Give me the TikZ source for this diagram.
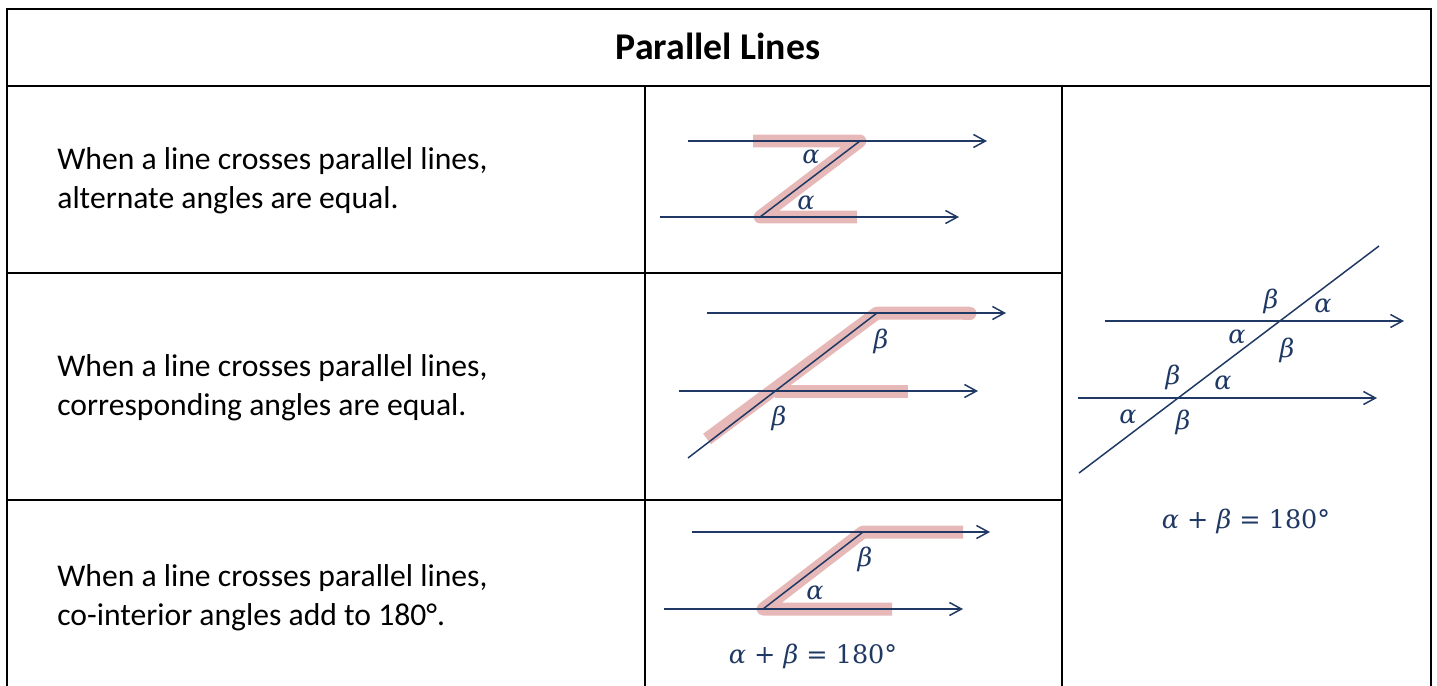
\documentclass[tikz,border=0pt]{standalone}
\usepackage{fontspec}
\setmainfont{Carlito}
\newfontfamily\angfont{DejaVu Serif}
\usetikzlibrary{arrows.meta}

\definecolor{navy}{RGB}{31,56,100}
\definecolor{hlpink}{RGB}{230,185,184}

\newcommand{\al}{\textit{α}}
\newcommand{\be}{\textit{β}}

\begin{document}
\begin{tikzpicture}[x=0.02cm,y=-0.02cm,
    grid/.style={line width=1.3pt,draw=black},
    ray/.style={draw=navy,line width=0.85pt,-{Straight Barb[length=0.24cm,width=0.26cm]}},
    cut/.style={draw=navy,line width=0.85pt},
    hilite/.style={draw=hlpink,line width=0.26cm,line join=round},
    rule/.style={font=\fontsize{18}{22}\selectfont,align=left,anchor=west,inner sep=0pt},
    ang/.style={text=navy,font=\angfont\fontsize{14.5}{18}\selectfont,inner sep=0pt}]
\useasboundingbox (0,0) rectangle (1437,686);

% table
\draw[grid] (7,686) -- (7,9) -- (1431,9) -- (1431,686);
\draw[grid] (7,86) -- (1431,86);
\draw[grid] (7,273) -- (1062,273);
\draw[grid] (7,500) -- (1062,500);
\draw[grid] (645,86) -- (645,686);
\draw[grid] (1062,86) -- (1062,686);

\node[font=\fontsize{21.5}{26}\selectfont\bfseries] (title) at (718,46) {Parallel Lines};

\node[rule] (alt) at (57,181) {When a line crosses parallel lines,\\alternate angles are equal.};
\node[rule] (corr) at (57,388) {When a line crosses parallel lines,\\corresponding angles are equal.};
\node[rule] (coint) at (57,598) {When a line crosses parallel lines,\\co-interior angles add to 180°.};

% alternate (Z)
\draw[hilite] (753,141) -- (860,141) -- (760,217) -- (857,217);
\draw[ray] (688,141) -- (987,141);
\draw[ray] (660,217) -- (959,217);
\draw[cut] (760,217) -- (860,141);
\node[ang] (za1) at (811,157) {\al};
\node[ang] (za2) at (806,203) {\al};

% corresponding (F)
\draw[hilite] (707,439) -- (877,313) -- (970,313);
\draw[hilite,line cap=round] (965,313) -- (970,313);
\draw[hilite] (775,391) -- (908,391);
\draw[ray] (707,313) -- (1006,313);
\draw[ray] (679,391) -- (978,391);
\draw[cut] (688,458) -- (877,313);
\node[ang] (fb1) at (881,341) {\be};
\node[ang] (fb2) at (779,418) {\be};

% co-interior (C)
\draw[hilite] (963,532) -- (863,532) -- (763,609) -- (892,609);
\draw[ray] (692,532) -- (990,532);
\draw[ray] (664,609) -- (963,609);
\draw[cut] (763,609) -- (863,532);
\node[ang] (cb) at (865,559) {\be};
\node[ang] (ca) at (815,593) {\al};
\node[ang] (csum) at (813,656) {\al{} + \be{} = 180°};

% all angles
\draw[ray] (1105,321) -- (1404,321);
\draw[ray] (1078,398) -- (1377,398);
\draw[cut] (1079,473) -- (1379,246);
\node[ang] (t1) at (1271,301) {\be};
\node[ang] (t2) at (1323,306) {\al};
\node[ang] (t3) at (1237,337) {\al};
\node[ang] (t4) at (1287,350) {\be};
\node[ang] (b1) at (1173,377) {\be};
\node[ang] (b2) at (1223,383) {\al};
\node[ang] (b3) at (1128,417) {\al};
\node[ang] (b4) at (1183,422) {\be};
\node[ang] (tsum) at (1246,521) {\al{} + \be{} = 180°};
\end{tikzpicture}
\end{document}
